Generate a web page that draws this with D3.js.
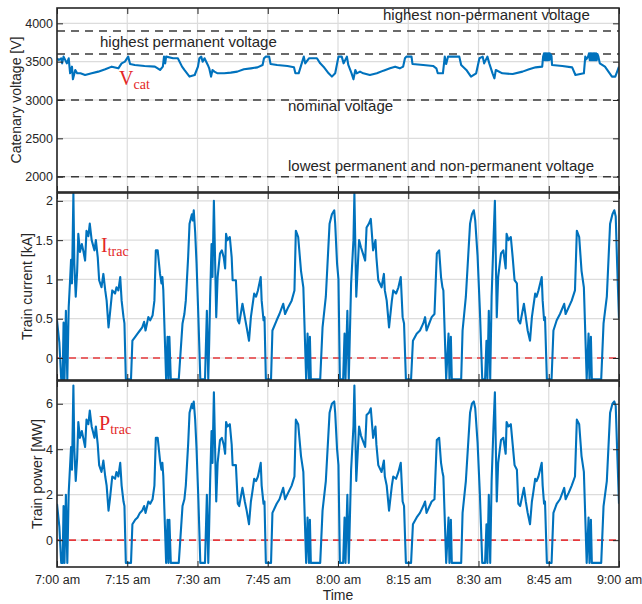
<!DOCTYPE html>
<html>
<head>
<meta charset="utf-8">
<script src="https://cdn.jsdelivr.net/npm/d3@7"></script>
<style>
  body { margin: 0; background: #fff; }
  text { font-family: "Liberation Sans", Arial, sans-serif; fill: #262626; }
</style>
</head>
<body>
<svg id="chart" width="642" height="604"></svg>
<script>
// minutes after 7:00 am
var voltagePts = [
  [0,3544],[0.4,3522],[0.9,3544],[1.1,3478],[1.4,3566],[2.1,3478],[2.5,3544],[2.8,3348],[3.2,3435],[3.4,3270],
  [3.9,3392],[4.3,3348],[5,3348],[6,3326],[7.4,3348],[8.8,3370],[10.3,3400],[11.7,3435],[13.1,3413],[13.8,3478],
  [14.5,3500],[15.2,3566],[15.6,3470],[16.6,3457],[18.7,3444],[20.9,3435],[22,3392],[22.6,3435],[22.85,3566],[23.1,3478],
  [23.3,3566],[24.8,3544],[25.8,3544],[26.7,3435],[27.2,3392],[28.3,3305],[29.4,3326],[30.1,3435],[30.4,3544],[30.8,3566],
  [31.1,3500],[31.5,3544],[32.2,3457],[32.5,3413],[32.9,3305],[33.2,3392],[33.6,3370],[34.3,3348],[35.7,3348],[37.1,3357],
  [38.5,3370],[39.9,3400],[41.4,3413],[42.8,3426],[43.9,3457],[44.2,3544],[44.6,3566],[45.3,3566],[45.6,3470],[47,3457],
  [49.2,3444],[50.6,3426],[50.9,3348],[51.6,3348],[52.7,3566],[53,3478],[53.8,3544],[55.5,3544],[56.2,3478],[56.9,3435],
  [58,3348],[58.7,3305],[59.4,3348],[60.1,3566],[60.8,3566],[61.2,3478],[61.9,3566],[62.2,3457],[62.9,3348],[63.3,3270],
  [63.7,3392],[64,3348],[64.7,3370],[65.4,3348],[66.8,3326],[68.3,3348],[69.7,3383],[71.1,3413],[72.2,3435],[73.2,3413],
  [73.9,3435],[74.3,3544],[74.6,3566],[75.7,3566],[75.9,3470],[78.2,3457],[80.3,3444],[81,3413],[81.3,3348],[82.4,3348],
  [82.8,3566],[83.1,3470],[83.5,3566],[85.9,3566],[86.3,3457],[87.4,3392],[88.4,3305],[89.5,3348],[90.2,3544],[90.9,3566],
  [91.2,3478],[91.9,3566],[92.3,3478],[93,3348],[93.4,3283],[93.7,3392],[95.1,3348],[97.3,3339],[99.4,3370],[100.8,3400],
  [102.2,3426],[103.6,3435],[103.8,3566],[104,3610],[104.15,3520],[104.3,3610],[104.45,3520],[104.6,3610],[104.75,3520],[104.9,3610],
  [105.05,3520],[105.2,3610],[105.35,3530],[105.5,3590],[105.6,3566],[105.7,3457],[107.9,3444],[110,3426],[110.7,3326],[112.5,3348],
  [112.8,3566],[113,3530],[113.4,3566],[113.6,3610],[113.75,3520],[113.9,3610],[114.05,3520],[114.2,3610],[114.35,3520],[114.5,3610],
  [114.65,3520],[114.8,3610],[114.95,3520],[115.1,3610],[115.25,3520],[115.4,3600],[115.6,3566],[115.9,3478],[117,3435],[118.5,3305],
  [119.2,3305],[120,3435]
];

var currentPts = [
  [0,0.48],[0.5,0.2],[0.9,-0.27],[1.2,-0.27],[1.4,0.45],[1.6,-0.27],[1.9,0.6],[2.2,-0.27],[2.5,0.65],[2.8,1.0],
  [3.0,1.25],[3.2,0.95],[3.5,2.09],[3.7,1.2],[4.0,0.78],[4.3,1.1],[4.55,1.58],[4.9,1.35],[5.3,1.45],[5.6,1.37],
  [6.0,1.24],[6.3,1.62],[6.7,1.55],[7.0,1.71],[7.4,1.5],[8.0,1.37],[8.3,1.5],[8.7,1.28],[9.0,0.99],[9.5,0.9],
  [9.9,1.07],[10.3,0.86],[10.6,0.73],[11.0,0.39],[11.3,0.56],[11.8,0.86],[12.4,0.82],[12.7,0.9],[13.1,0.86],[13.5,1.03],
  [13.8,0.73],[14.2,0.52],[14.4,0.44],[14.7,-0.27],[15.8,-0.27],[16.1,0.22],[16.7,0.27],[17.2,0.31],[17.7,0.35],[18.2,0.39],
  [18.6,0.46],[18.9,0.35],[19.5,0.52],[19.9,0.48],[20.4,0.54],[20.8,0.73],[21.1,1.37],[21.5,1.37],[22.0,1.07],[22.3,0.95],
  [22.5,1.03],[22.7,0.86],[23.3,-0.27],[23.6,0.27],[23.8,-0.27],[24.0,0.27],[24.3,-0.27],[26.0,-0.27],[26.8,0.44],[27.2,0.56],
  [27.5,0.73],[28.0,1.28],[28.3,1.71],[28.8,1.83],[29.0,1.75],[29.2,1.88],[29.5,1.6],[29.8,1.2],[30.2,0.5],[30.6,-0.27],
  [31.6,-0.27],[32.0,0.6],[32.3,-0.27],[32.5,0.2],[32.7,0.78],[33.0,1.45],[33.2,1.03],[33.5,2.0],[34.0,0.52],[34.3,1.03],
  [34.8,1.33],[35.2,1.37],[35.6,1.28],[35.9,1.14],[36.1,1.58],[36.4,1.5],[36.9,1.54],[37.3,1.28],[37.5,0.99],[38.2,0.99],
  [38.6,0.48],[38.9,0.44],[39.6,0.69],[40.1,0.52],[40.5,0.39],[41.0,0.22],[41.4,0.52],[41.7,0.65],[42.1,0.82],[42.5,0.78],
  [42.9,0.86],[43.5,1.03],[43.7,0.73],[44.1,0.48],[44.3,0.52],[44.6,-0.27],[45.7,-0.27],[46.0,0.35],[46.9,0.48],[47.5,0.56],
  [48.3,0.69],[48.7,0.56],[49.4,0.65],[50.1,0.73],[50.7,0.86],[51.0,1.62],[51.5,1.54],[52.1,1.11],[52.6,0.9],[53.2,-0.27],
  [53.5,0.31],[53.8,-0.27],[54.0,0.27],[54.2,-0.27],[56.2,-0.27],[56.7,0.39],[57.4,0.78],[58.2,1.71],[58.7,1.83],[59.2,1.88],
  [59.4,1.71],[59.8,1.2],[60.1,1.0],[60.4,-0.27],[61.1,-0.27],[61.4,0.31],[61.6,-0.27],[62.0,0.6],[62.3,-0.27],[62.8,0.95],
  [63.3,1.5],[63.5,2.09],[63.9,0.78],[64.5,1.5],[64.9,1.41],[65.8,1.24],[66.1,1.66],[66.6,1.71],[67.0,1.77],[67.5,1.37],
  [68.0,1.5],[68.2,1.28],[68.6,0.99],[69.3,0.9],[69.8,1.07],[70.0,0.86],[70.4,0.73],[70.9,0.39],[71.5,0.73],[71.8,0.86],
  [72.4,0.82],[72.9,0.9],[73.4,1.03],[73.8,0.52],[74.1,0.44],[74.5,-0.27],[75.6,-0.27],[76.0,0.22],[76.8,0.31],[77.5,0.35],
  [78.2,0.44],[78.6,0.52],[78.9,0.35],[80.0,0.52],[80.6,0.56],[81.1,1.33],[81.6,1.37],[82.0,1.03],[82.3,0.9],[82.5,0.86],
  [83.1,-0.27],[83.6,0.31],[83.8,-0.27],[84.1,0.27],[84.3,-0.27],[86.3,-0.27],[86.6,0.35],[87.3,0.78],[88.2,1.71],[88.6,1.83],
  [89.0,1.88],[89.3,1.75],[89.8,1.3],[90.3,0.6],[90.8,-0.27],[91.4,-0.27],[91.7,0.22],[91.9,-0.27],[92.2,0.6],[92.5,-0.27],
  [92.8,0.78],[93.2,1.5],[93.5,2.0],[93.9,0.52],[94.2,1.03],[94.8,1.33],[95.3,1.37],[95.8,1.14],[96.0,1.58],[96.4,1.5],
  [96.9,1.54],[97.3,1.28],[97.7,0.99],[98.2,0.95],[98.5,0.48],[98.9,0.44],[99.7,0.69],[100.1,0.52],[100.5,0.35],[101.0,0.22],
  [101.4,0.52],[101.7,0.65],[102.1,0.82],[102.4,0.78],[102.8,0.86],[103.5,1.03],[103.7,0.73],[104.0,0.48],[104.2,0.52],[104.6,-0.27],
  [105.6,-0.27],[106.0,0.35],[106.7,0.48],[107.4,0.56],[108.3,0.69],[108.6,0.56],[109.3,0.65],[109.9,0.73],[110.6,0.86],[111.0,1.62],
  [111.5,1.54],[112.0,1.11],[112.5,0.9],[113.1,-0.27],[113.5,0.31],[113.7,-0.27],[114.0,0.27],[114.2,-0.27],[116.2,-0.27],[116.7,0.44],
  [117.4,0.78],[118.1,1.71],[118.6,1.83],[119.0,1.88],[119.3,1.8],[119.6,1.2],[120.0,0.5]
];

var powerPts = [
  [0,1.6],[0.5,0.6],[0.9,-1],[1.2,-1],[1.4,1.5],[1.6,-1],[1.9,2.0],[2.2,-1],[2.5,2.1],[2.8,3.3],
  [3.0,4.1],[3.2,3.1],[3.5,6.8],[3.7,4.0],[4.0,2.6],[4.3,3.6],[4.55,5.2],[4.9,4.5],[5.3,4.8],[5.6,4.5],
  [6.0,4.1],[6.3,5.3],[6.7,5.1],[7.0,5.7],[7.4,5.0],[8.0,4.5],[8.3,5.0],[8.7,4.2],[9.0,3.3],[9.5,3.0],
  [9.9,3.5],[10.3,2.8],[10.6,2.4],[11.0,1.3],[11.3,1.8],[11.8,2.8],[12.4,2.7],[12.7,3.0],[13.1,2.8],[13.5,3.4],
  [13.8,2.4],[14.2,1.7],[14.4,1.5],[14.7,-1],[15.8,-1],[16.1,0.7],[16.7,0.9],[17.2,1.0],[17.7,1.2],[18.2,1.3],
  [18.6,1.5],[18.9,1.2],[19.5,1.7],[19.9,1.6],[20.4,1.8],[20.8,2.4],[21.1,4.5],[21.5,4.5],[22.0,3.5],[22.3,3.1],
  [22.5,3.4],[22.7,2.8],[23.3,-1],[23.6,0.9],[23.8,-1],[24.0,0.9],[24.3,-1],[26.0,-1],[26.8,1.5],[27.2,1.8],
  [27.5,2.4],[28.0,4.2],[28.3,5.6],[28.8,6.0],[29.0,5.8],[29.2,6.1],[29.5,5.3],[29.8,4.0],[30.2,1.7],[30.6,-1],
  [31.6,-1],[32.0,2.0],[32.3,-1],[32.5,0.7],[32.7,2.6],[33.0,4.8],[33.2,3.4],[33.5,6.5],[34.0,1.7],[34.3,3.4],
  [34.8,4.4],[35.2,4.5],[35.6,4.2],[35.9,3.8],[36.1,5.2],[36.4,5.0],[36.9,5.1],[37.3,4.2],[37.5,3.3],[38.2,3.3],
  [38.6,1.6],[38.9,1.5],[39.6,2.3],[40.1,1.7],[40.5,1.3],[41.0,0.7],[41.4,1.7],[41.7,2.1],[42.1,2.7],[42.5,2.6],
  [42.9,2.8],[43.5,3.4],[43.7,2.4],[44.1,1.6],[44.3,1.7],[44.6,-1],[45.7,-1],[46.0,1.2],[46.9,1.6],[47.5,1.8],
  [48.3,2.3],[48.7,1.8],[49.4,2.1],[50.1,2.4],[50.7,2.8],[51.0,5.3],[51.5,5.1],[52.1,3.7],[52.6,3.0],[53.2,-1],
  [53.5,1.0],[53.8,-1],[54.0,0.9],[54.2,-1],[56.2,-1],[56.7,1.3],[57.4,2.6],[58.2,5.6],[58.7,6.0],[59.2,6.1],
  [59.4,5.6],[59.8,4.0],[60.1,3.3],[60.4,-1],[61.1,-1],[61.4,1.0],[61.6,-1],[62.0,2.0],[62.3,-1],[62.8,3.1],
  [63.3,5.0],[63.5,6.8],[63.9,2.6],[64.5,5.0],[64.9,4.6],[65.8,4.1],[66.1,5.5],[66.6,5.6],[67.0,5.8],[67.5,4.5],
  [68.0,5.0],[68.2,4.2],[68.6,3.3],[69.3,3.0],[69.8,3.5],[70.0,2.8],[70.4,2.4],[70.9,1.3],[71.5,2.4],[71.8,2.8],
  [72.4,2.7],[72.9,3.0],[73.4,3.4],[73.8,1.7],[74.1,1.5],[74.5,-1],[75.6,-1],[76.0,0.7],[76.8,1.0],[77.5,1.2],
  [78.2,1.5],[78.6,1.7],[78.9,1.2],[80.0,1.7],[80.6,1.8],[81.1,4.4],[81.6,4.5],[82.0,3.4],[82.3,3.0],[82.5,2.8],
  [83.1,-1],[83.6,1.0],[83.8,-1],[84.1,0.9],[84.3,-1],[86.3,-1],[86.6,1.2],[87.3,2.6],[88.2,5.6],[88.6,6.0],
  [89.0,6.1],[89.3,5.8],[89.8,4.3],[90.3,2.0],[90.8,-1],[91.4,-1],[91.7,0.7],[91.9,-1],[92.2,2.0],[92.5,-1],
  [92.8,2.6],[93.2,5.0],[93.5,6.5],[93.9,1.7],[94.2,3.4],[94.8,4.4],[95.3,4.5],[95.8,3.8],[96.0,5.2],[96.4,5.0],
  [96.9,5.1],[97.3,4.2],[97.7,3.3],[98.2,3.1],[98.5,1.6],[98.9,1.5],[99.7,2.3],[100.1,1.7],[100.5,1.2],[101.0,0.7],
  [101.4,1.7],[101.7,2.1],[102.1,2.7],[102.4,2.6],[102.8,2.8],[103.5,3.4],[103.7,2.4],[104.0,1.6],[104.2,1.7],[104.6,-1],
  [105.6,-1],[106.0,1.2],[106.7,1.6],[107.4,1.8],[108.3,2.3],[108.6,1.8],[109.3,2.1],[109.9,2.4],[110.6,2.8],[111.0,5.3],
  [111.5,5.1],[112.0,3.7],[112.5,3.0],[113.1,-1],[113.5,1.0],[113.7,-1],[114.0,0.9],[114.2,-1],[116.2,-1],[116.7,1.5],
  [117.4,2.6],[118.1,5.6],[118.6,6.0],[119.0,6.1],[119.3,5.9],[119.6,4.0],[120.0,1.6]
];

var voltTicks = [2000, 2500, 3000, 3500, 4000];
var currentTicks = [0, 0.5, 1, 1.5, 2];
var powerTicks = [0, 2, 4, 6];
var limitValues = [3900, 3600, 3000, 2000];
var limitLabels = ["highest non-permanent voltage", "highest permanent voltage",
                   "nominal voltage", "lowest permanent and non-permanent voltage"];

var svg = d3.select("#chart");
var left = 57, right = 619;
var t0 = new Date(2020, 0, 1, 7, 0);
var t1 = new Date(2020, 0, 1, 9, 0);
function toDate(m) { return new Date(t0.getTime() + m * 60000); }

var x = d3.scaleTime().domain([t0, t1]).range([left, right]);
var xTicks = d3.timeMinute.every(15).range(t0, new Date(t1.getTime() + 1));
var fmtTime = d3.timeFormat("%-I:%M");

var panels = [
  { pts: voltagePts, domain: [1800, 4200], top: 8, bottom: 192, ticks: voltTicks,
    title: "Catenary voltage [V]", titleX: 20.5, zero: false,
    tag: ["V", "cat"], tagX: 119, tagY: 85 },
  { pts: currentPts, domain: [-0.28, 2.1], top: 193, bottom: 380, ticks: currentTicks,
    title: "Train current [kA]", titleX: 31.5, zero: true,
    tag: ["I", "trac"], tagX: 101, tagY: 252 },
  { pts: powerPts, domain: [-1.18, 7], top: 381, bottom: 567, ticks: powerTicks,
    title: "Train power [MW]", titleX: 41.5, zero: true,
    tag: ["P", "trac"], tagX: 99, tagY: 430 }
];

panels.forEach(function (p, i) {
  var y = d3.scaleLinear().domain(p.domain).range([p.bottom, p.top]);
  var g = svg.append("g");

  // grid
  g.append("g").selectAll("line").data(p.ticks).enter().append("line")
    .attr("x1", left).attr("x2", right)
    .attr("y1", function (d) { return y(d); }).attr("y2", function (d) { return y(d); })
    .attr("stroke", "#dcdcdc").attr("stroke-width", 1.2);
  g.append("g").selectAll("line").data(xTicks).enter().append("line")
    .attr("x1", function (d) { return x(d); }).attr("x2", function (d) { return x(d); })
    .attr("y1", p.top).attr("y2", p.bottom)
    .attr("stroke", "#dcdcdc").attr("stroke-width", 1.2);

  // limit lines in the voltage panel
  if (i === 0) {
    limitValues.forEach(function (v, k) {
      g.append("line").attr("x1", left).attr("x2", right)
        .attr("y1", y(v)).attr("y2", y(v))
        .attr("stroke", "#3a3a3a").attr("stroke-width", 1.5)
        .attr("stroke-dasharray", "8,6");
    });
    var lx = [383, 100, 288, 288];
    var ly = [-11, -7.5, 11, -5.5];
    limitLabels.forEach(function (s, k) {
      g.append("text").attr("x", lx[k]).attr("y", y(limitValues[k]) + ly[k])
        .style("font-size", "15px").text(s);
    });
  }

  if (p.zero) {
    g.append("line").attr("x1", left).attr("x2", right)
      .attr("y1", y(0)).attr("y2", y(0))
      .attr("stroke", "#e5383b").attr("stroke-width", 1.6)
      .attr("stroke-dasharray", "7,5");
  }

  // data line
  var clipId = "clip" + i;
  svg.append("clipPath").attr("id", clipId).append("rect")
    .attr("x", left).attr("y", p.top).attr("width", right - left).attr("height", p.bottom - p.top);
  var line = d3.line()
    .x(function (d) { return x(toDate(d[0])); })
    .y(function (d) { return y(d[1]); });
  g.append("path").datum(p.pts)
    .attr("clip-path", "url(#" + clipId + ")")
    .attr("d", line)
    .attr("fill", "none").attr("stroke", "#0072BD")
    .attr("stroke-width", 2.1).attr("stroke-linejoin", "round");

  // axes, ticks inside like the original
  g.append("g").attr("transform", "translate(" + left + ",0)")
    .call(d3.axisLeft(y).tickValues(p.ticks).tickSize(-6).tickPadding(4)
      .tickFormat(function (d) { return String(d); }))
    .call(function (a) {
      a.select(".domain").remove();
      a.selectAll("line").attr("stroke", "#262626");
      a.selectAll("text").style("font-size", "12.5px").attr("fill", "#262626")
        .style("font-family", "'Liberation Sans', Arial, sans-serif");
    });
  g.append("g").attr("transform", "translate(" + right + ",0)")
    .call(d3.axisRight(y).tickValues(p.ticks).tickSize(-6).tickFormat(""))
    .call(function (a) { a.select(".domain").remove(); a.selectAll("line").attr("stroke", "#262626"); });
  g.append("g").attr("transform", "translate(0," + p.top + ")")
    .call(d3.axisTop(x).tickValues(xTicks).tickSize(-6).tickFormat(""))
    .call(function (a) { a.select(".domain").remove(); a.selectAll("line").attr("stroke", "#262626"); });
  var bottomAxis = d3.axisBottom(x).tickValues(xTicks).tickSize(-6).tickPadding(8)
    .tickFormat(i === 2 ? function (d) { return fmtTime(d) + " am"; } : "");
  g.append("g").attr("transform", "translate(0," + p.bottom + ")")
    .call(bottomAxis)
    .call(function (a) {
      a.select(".domain").remove();
      a.selectAll("line").attr("stroke", "#262626");
      a.selectAll("text").style("font-size", "12.5px").attr("fill", "#262626")
        .style("font-family", "'Liberation Sans', Arial, sans-serif");
    });

  // box
  g.append("rect").attr("x", left).attr("y", p.top)
    .attr("width", right - left).attr("height", p.bottom - p.top)
    .attr("fill", "none").attr("stroke", "#262626").attr("stroke-width", 1.6);

  // y title
  g.append("text")
    .attr("transform", "translate(" + p.titleX + "," + ((p.top + p.bottom) / 2) + ") rotate(-90)")
    .attr("text-anchor", "middle").style("font-size", "14px").text(p.title);

  // red series tag
  var tag = g.append("text").attr("x", p.tagX).attr("y", p.tagY)
    .style("font-family", "'Liberation Serif', 'Times New Roman', serif");
  tag.append("tspan").style("fill", "#e32626").style("font-size", "20px").text(p.tag[0]);
  tag.append("tspan").attr("dy", 4).style("fill", "#e32626").style("font-size", "14px").text(p.tag[1]);
});

svg.append("text").attr("x", (left + right) / 2).attr("y", 600)
  .attr("text-anchor", "middle").style("font-size", "14px").text("Time");
</script>
</body>
</html>
